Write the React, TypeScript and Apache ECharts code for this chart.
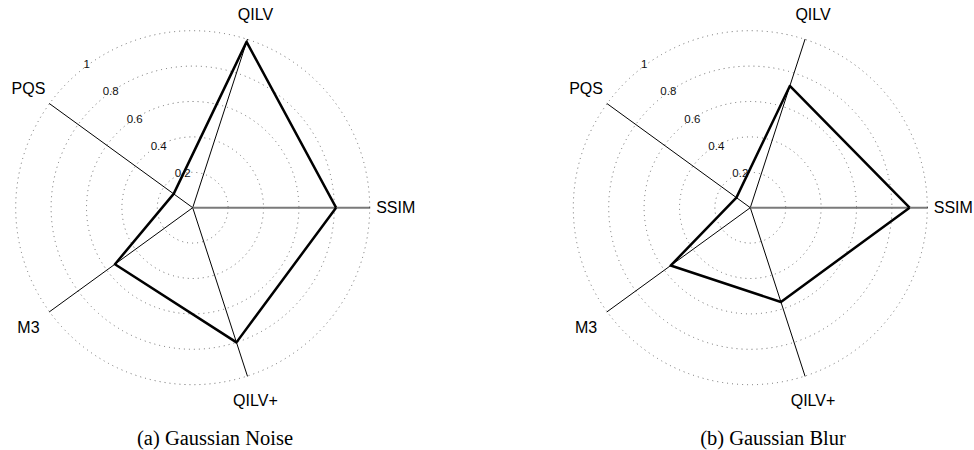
import React, { useEffect, useRef } from "react";
import * as echarts from "echarts";

// ---- data ----
const indicators = ["SSIM", "QILV", "PQS", "M3", "QILV+"];
const noiseValues = [0.81, 0.985, 0.133, 0.543, 0.8];
const blurValues = [0.9, 0.723, 0.097, 0.556, 0.56];
const ringTicks = [0.2, 0.4, 0.6, 0.8, 1];
const ringTickLabels = ["0.2", "0.4", "0.6", "0.8", "1"];
const captions = ["(a) Gaussian Noise", "(b) Gaussian Blur"];
const panelValues = [noiseValues, blurValues];

// ---- layout ----
const W = 974;
const H = 450;
const R = 177;
const CENTERS: number[][] = [
  [192.7, 207.7],
  [750.3, 207.7],
];
const CAPTION_POS: number[][] = [
  [215, 438],
  [773, 438],
];
const NAME_R = 203;
const LABEL_ANGLE = (131.3 * Math.PI) / 180;
const LABEL_SCALE = 1.027;
const LABEL_OFFSET = [14, -7];

export default function App() {
  const ref = useRef<HTMLDivElement>(null);

  useEffect(() => {
    if (!ref.current) return;
    const chart = echarts.init(ref.current, undefined, { renderer: "svg" });

    const graphics: any[] = [];
    CENTERS.forEach((c, p) => {
      // grey SSIM spoke
      graphics.push({
        type: "line",
        z: 1,
        shape: { x1: c[0], y1: c[1], x2: c[0] + R, y2: c[1] },
        style: { stroke: "#7a7a7a", lineWidth: 2 },
      });
      // axis names
      indicators.forEach((name, i) => {
        const a = (i * 2 * Math.PI) / indicators.length;
        graphics.push({
          type: "text",
          z: 10,
          x: c[0] + NAME_R * Math.cos(a),
          y: c[1] - NAME_R * Math.sin(a),
          style: {
            text: name,
            align: "center",
            verticalAlign: "middle",
            fontFamily: "Liberation Sans, Arial, sans-serif",
            fontSize: 16,
            fill: "#000",
          },
        });
      });
      // ring labels
      ringTicks.forEach((v, k) => {
        graphics.push({
          type: "text",
          z: 10,
          x: c[0] + v * R * LABEL_SCALE * Math.cos(LABEL_ANGLE) + LABEL_OFFSET[0],
          y: c[1] - v * R * LABEL_SCALE * Math.sin(LABEL_ANGLE) + LABEL_OFFSET[1],
          style: {
            text: ringTickLabels[k],
            align: "center",
            verticalAlign: "middle",
            fontFamily: "Liberation Sans, Arial, sans-serif",
            fontSize: 11.5,
            fill: "#111",
          },
        });
      });
      // caption
      graphics.push({
        type: "text",
        z: 10,
        x: CAPTION_POS[p][0],
        y: CAPTION_POS[p][1],
        style: {
          text: captions[p],
          align: "center",
          verticalAlign: "middle",
          fontFamily: "Liberation Serif, Times New Roman, serif",
          fontSize: 20.5,
          fill: "#000",
        },
      });
    });

    chart.setOption({
      animation: false,
      backgroundColor: "#fff",
      radar: CENTERS.map((c) => ({
        center: c,
        radius: R,
        startAngle: 0,
        shape: "circle",
        splitNumber: 5,
        indicator: indicators.map((n) => ({ name: n, min: 0, max: 1 })),
        axisName: { show: false },
        axisLine: { show: true, lineStyle: { color: "#000", width: 1 } },
        axisTick: { show: false },
        axisLabel: { show: false },
        splitLine: {
          show: true,
          lineStyle: { color: "#6a6a6a", width: 1, type: [1, 4] },
        },
        splitArea: { show: false },
      })),
      series: panelValues.map((vals, p) => ({
        type: "radar",
        radarIndex: p,
        symbol: "none",
        z: 3,
        lineStyle: { color: "#000", width: 2.5 },
        data: [{ value: vals, name: captions[p] }],
      })),
      graphic: { elements: graphics },
    });

    return () => chart.dispose();
  }, []);

  return (
    <div
      ref={ref}
      style={{ position: "fixed", left: 0, top: 0, width: W, height: H }}
    />
  );
}
